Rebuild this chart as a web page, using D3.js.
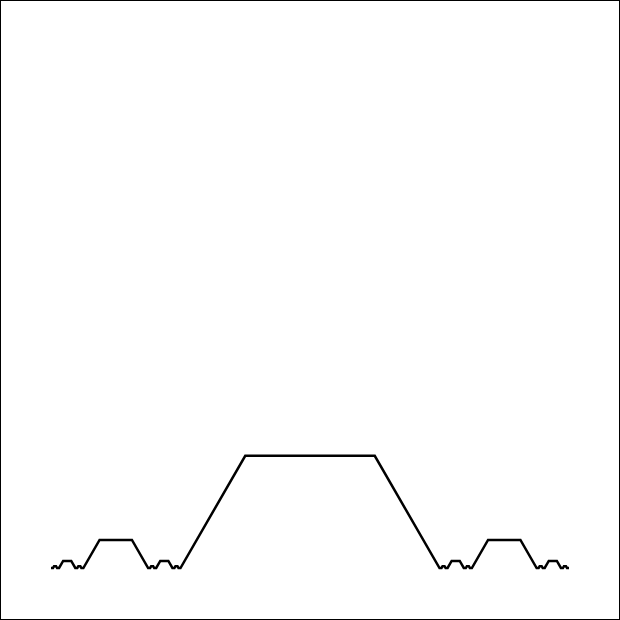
<!DOCTYPE html>
<html><head><meta charset="utf-8">
<script src="https://cdn.jsdelivr.net/npm/d3@7"></script>
<style>body{margin:0;background:#fff}svg{display:block}</style>
</head><body>
<svg id="chart" width="620" height="620"></svg>
<script>
// Generator: each step of the motif (turn angle in degrees, whether that step is subdivided again)
const stepAngles = [0, 60, 0, -60, 0];
const stepRecurse = [true, false, false, false, true];
const depth = 4;

let svg = d3.select('#chart');
svg.append('rect').attr('x', 0.5).attr('y', 0.5).attr('width', 619).attr('height', 619)
  .attr('fill', 'none').attr('stroke', '#000');

let x = d3.scaleLinear().domain([0, 1]).range([51, 569]);
let y = d3.scaleLinear().domain([0, 1]).range([568, 50]);

// build curve points in data units
let pts = [[0, 0]];
function build(x0, y0, len, level) {
  let seg = len / 4, cx = x0, cy = y0;
  stepAngles.forEach(function(a, i) {
    let r = a * Math.PI / 180;
    let nx = cx + seg * Math.cos(r), ny = cy + seg * Math.sin(r);
    if (stepRecurse[i] && level > 1) build(cx, cy, seg * 4 / 4, level - 1), pts.pop(), pts.push([nx, ny]);
    else pts.push([nx, ny]);
    cx = nx; cy = ny;
  });
}
// recursion on a flat segment of length `seg`
function flat(x0, y0, len, level) {
  if (level === 0) { pts.push([x0 + len, y0]); return; }
  let seg = len / 4, cx = x0, cy = y0;
  stepAngles.forEach(function(a, i) {
    let r = a * Math.PI / 180;
    let nx = cx + seg * Math.cos(r), ny = cy + seg * Math.sin(r);
    if (stepRecurse[i]) flat(cx, cy, seg, level - 1);
    else pts.push([nx, ny]);
    cx = nx; cy = ny;
  });
}
flat(0, 0, 1, depth);

let line = d3.line().x(function(d) { return x(d[0]); }).y(function(d) { return y(d[1]); });
svg.append('path').datum(pts).attr('d', line)
  .attr('fill', 'none').attr('stroke', '#000').attr('stroke-width', 2.5)
  .attr('stroke-linejoin', 'miter');
</script>
</body></html>
